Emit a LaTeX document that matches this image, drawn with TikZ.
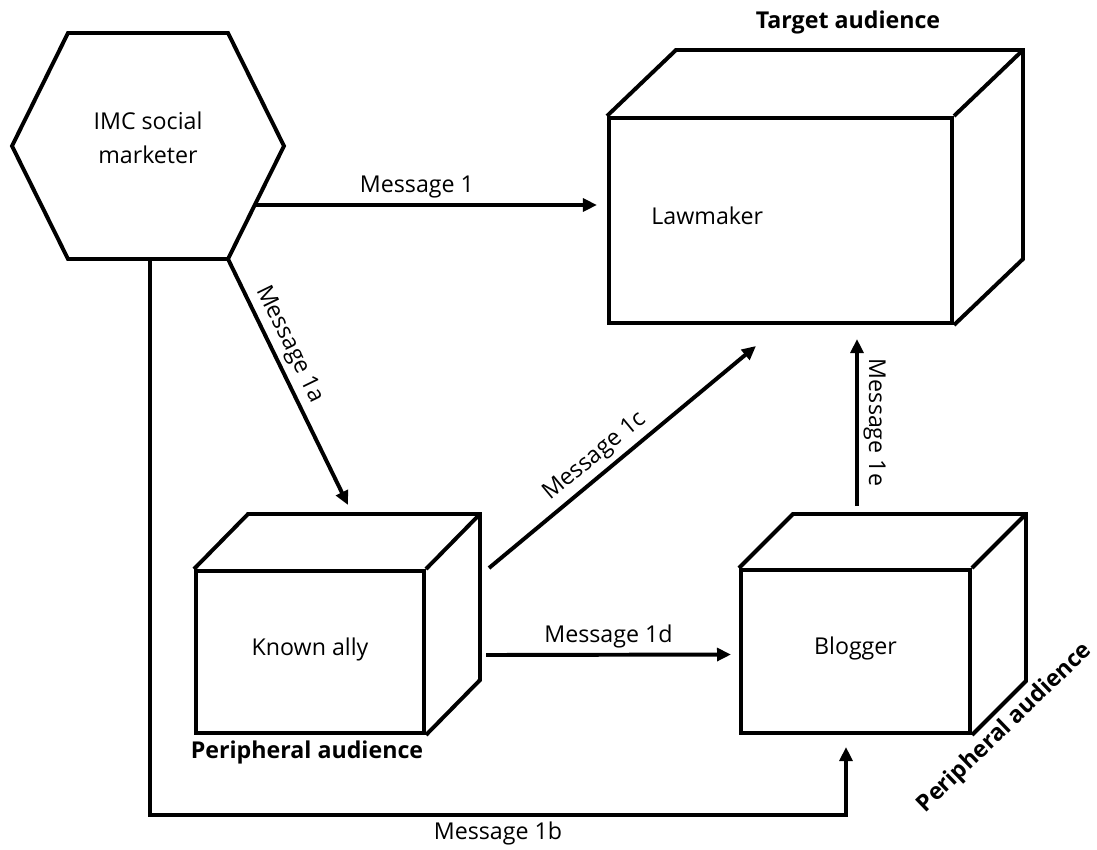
\documentclass[tikz,border=0pt]{standalone}
\usepackage{fontspec}
\setmainfont{Open Sans}
\usetikzlibrary{positioning,calc,arrows.meta}

\tikzset{
  edge/.style={line width=2.8pt},
  face/.style={draw, line width=2.8pt, inner sep=0pt, font=\fontsize{16.5}{20}\selectfont},
  msg/.style={line width=2.8pt, -{Triangle[length=0.35cm,width=0.32cm]}},
  lbl/.style={font=\fontsize{16.5}{20}\selectfont},
  aud/.style={font=\bfseries\fontsize{16.5}{20}\selectfont},
}

% back and side of a box
\newcommand{\cubeback}[3]{%
  \draw[edge] (#1.north west) -- ++(#2,-#3) -- ($(#1.north east)+(#2,-#3)$)
    -- ($(#1.south east)+(#2,-#3)$) -- (#1.south east);
  \draw[edge] (#1.north east) -- ++(#2,-#3);
}

\begin{document}
\begin{tikzpicture}[x=0.025cm, y=-0.025cm]
\useasboundingbox (0,0) rectangle (1097,849);

% Social marketer
\draw[edge] (68,33) -- (228,33) -- (284,146) -- (228,259) -- (68,259) -- (12,146) -- cycle;
\node[align=center, font=\fontsize{16.5}{24}\selectfont] (imc) at (148,138) {IMC social\\marketer};
\coordinate (imcR) at (255,205);
\coordinate (imcSE) at (228,259);
\coordinate (imcS) at (150,259);

% Audience boxes
\node[face, minimum width=5.7cm, minimum height=4.05cm] (ally) at (310,652) {\raisebox{8pt}{Known ally}};
\node[face, minimum width=5.725cm, minimum height=4.075cm] (blog) at (855.5,651.5) {\raisebox{8pt}{Blogger}};
\node[face, minimum width=8.575cm, minimum height=5.125cm,
      label={[lbl, xshift=-1.83cm, yshift=0.12cm]center:Lawmaker}] (law) at (780.5,220.5) {};
\cubeback{ally}{54}{55}
\cubeback{blog}{54}{54}
\cubeback{law}{69}{66}

% Audience labels
\node[aud] (tgt) at (848,22) {Target audience};
\node[aud] (per1) at (307,752) {Peripheral audience};
\node[aud, rotate=44] (per2) at (1005,728) {Peripheral audience};

% Messages
\draw[msg, shorten >=0.25cm] (imcR) -- node[lbl, above, pos=0.46] (m1) {Message 1} (imcR -| law.west);
\draw[msg] (imcSE) -- node[lbl, sloped, above, pos=0.38] (m1a) {Message 1a} ($(ally.north)+(38,-64)$);
\draw[msg] ($(ally.north east)+(63,-1)$) -- node[lbl, sloped, above, pos=0.44] (m1c) {Message 1c} ($(law.south west)+(149,21)$);
\draw[msg] ($(ally.east)+(60,3)$) -- node[lbl, above] (m1d) {Message 1d} ($(blog.west)+(-8,3)$);
\draw[msg] ($(blog.north)+(1.5,-62)$) -- node[lbl, rotate=-90, anchor=south] (m1e) {Message 1e} ($(law.south)+(76.5,14)$);
\draw[msg] (imcS) |- node[lbl, pos=0.75, below] (m1b) {Message 1b} ($(blog.south)+(-9.5,80)$) -- ($(blog.south)+(-9.5,12)$);
\end{tikzpicture}
\end{document}
